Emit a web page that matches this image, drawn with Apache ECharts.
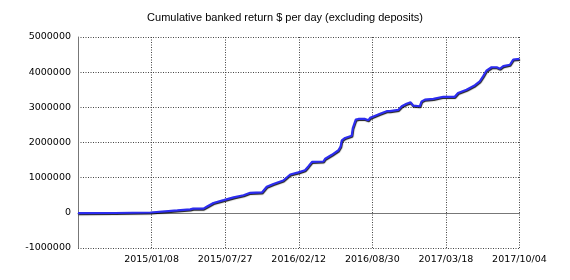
<!DOCTYPE html>
<html><head><meta charset="utf-8">
<script src="https://cdn.jsdelivr.net/npm/echarts@6/dist/echarts.min.js"></script>
<style>html,body{margin:0;padding:0;background:#fff}#c{width:570px;height:280px}</style>
</head><body><div id="c"></div>
<script>
const titleText = 'Cumulative banked return $ per day (excluding deposits)';
const startDate = '2014/06/22';
const xTickLabels = ['', '2015/01/08', '2015/07/27', '2016/02/12', '2016/08/30', '2017/03/18', '2017/10/04'];
const yTicks = [-1000000, 0, 1000000, 2000000, 3000000, 4000000, 5000000];
// days after startDate
const dayOffsets = [0, 100, 197, 270, 305, 313, 341, 351, 368, 396, 423, 450, 468, 500, 513, 531, 558, 577, 599, 617, 626, 636, 667, 672, 690, 708, 714, 717, 726, 744, 747, 755, 762, 780, 789, 794, 803, 821, 839, 848, 871, 880, 893, 904, 911, 929, 934, 943, 966, 993, 1024, 1033, 1056, 1079, 1092, 1101, 1110, 1124, 1138, 1147, 1156, 1174, 1183, 1200];
const returns = [-10000, -5000, 10000, 70000, 100000, 120000, 120000, 180000, 280000, 360000, 440000, 500000, 570000, 580000, 740000, 820000, 920000, 1090000, 1150000, 1210000, 1320000, 1450000, 1460000, 1540000, 1650000, 1780000, 1890000, 2060000, 2130000, 2190000, 2410000, 2650000, 2670000, 2670000, 2630000, 2700000, 2740000, 2820000, 2890000, 2890000, 2930000, 3030000, 3100000, 3140000, 3050000, 3030000, 3170000, 3220000, 3240000, 3300000, 3300000, 3410000, 3500000, 3630000, 3740000, 3880000, 4040000, 4140000, 4140000, 4100000, 4170000, 4210000, 4360000, 4380000];

const tickStep = 200;
const data = dayOffsets.map((d, i) => [d, returns[i]]);
const chart = echarts.init(document.getElementById('c'), null, {renderer: 'canvas'});
const gridLine = {show: true, lineStyle: {color: '#444', type: [1, 1.5], width: 1}};
chart.setOption({
  animation: false,
  title: {text: titleText, left: 'center', top: 7, textStyle: {fontFamily: 'Liberation Sans', fontSize: 11, fontWeight: 'normal', color: '#000'}},
  grid: {left: 78, right: 50.5, top: 37, bottom: 32, containLabel: false},
  xAxis: {
    type: 'value', min: 0, max: tickStep * (xTickLabels.length - 1), interval: tickStep,
    axisLine: {show: true, lineStyle: {color: '#777', width: 1}},
    axisTick: {show: false},
    splitLine: gridLine,
    axisLabel: {margin: 7, fontFamily: 'DejaVu Sans', fontSize: 9.5, color: '#000',
      formatter: v => xTickLabels[Math.round(v / tickStep)] || ''}
  },
  yAxis: {
    type: 'value', min: yTicks[0], max: yTicks[yTicks.length - 1], interval: 1000000,
    axisLine: {show: true, lineStyle: {color: '#777', width: 1}},
    axisTick: {show: false},
    splitLine: gridLine,
    axisLabel: {margin: 7, fontFamily: 'DejaVu Sans', fontSize: 9.5, color: '#000', formatter: v => String(v)}
  },
  series: [{
    type: 'line', data: data, showSymbol: false, smooth: false,
    lineStyle: {color: '#2d2df0', width: 2.2, shadowColor: 'rgba(0,0,0,0.9)', shadowBlur: 1, shadowOffsetX: 0.5, shadowOffsetY: 1}
  }]
});
</script></body></html>
